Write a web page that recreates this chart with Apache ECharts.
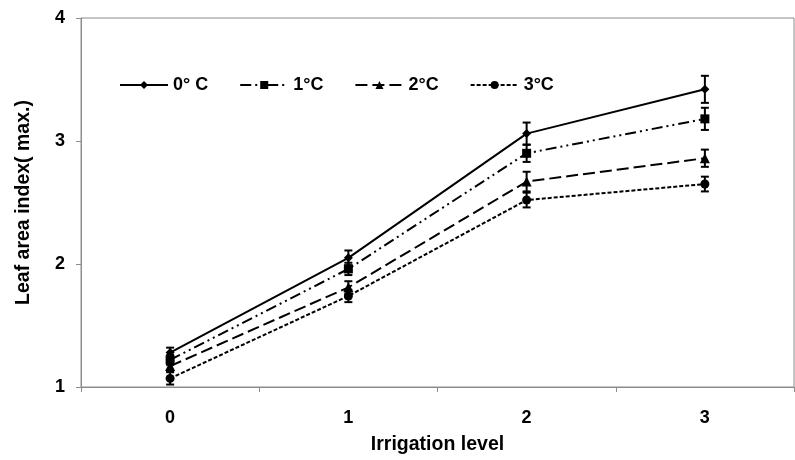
<!DOCTYPE html>
<html>
<head>
<meta charset="utf-8">
<script src="https://cdn.jsdelivr.net/npm/echarts@6/dist/echarts.min.js"></script>
<style>
  html, body { margin: 0; padding: 0; background: #fff; }
  #chart { width: 795px; height: 460px; }
</style>
</head>
<body>
<div id="chart"></div>
<script>
let chart = echarts.init(document.getElementById('chart'));

// data
const levels = ['0', '1', '2', '3'];
const names = ['0° C', '1°C', '2°C', '3°C'];
const lai0 = [1.28, 2.05, 3.06, 3.42];
const lai1 = [1.22, 1.96, 2.90, 3.18];
const lai2 = [1.17, 1.81, 2.67, 2.86];
const lai3 = [1.07, 1.74, 2.52, 2.65];
const err0 = [0.04, 0.06, 0.09, 0.11];
const err1 = [0.04, 0.05, 0.07, 0.09];
const err2 = [0.04, 0.05, 0.08, 0.07];
const err3 = [0.05, 0.05, 0.06, 0.06];
const yTicks = [1, 2, 3, 4];

const font = 'Liberation Sans, Arial, sans-serif';
const allValues = [lai0, lai1, lai2, lai3];
const allErrors = [err0, err1, err2, err3];
const symbols = ['diamond', 'rect', 'triangle', 'circle'];
const symbolSizes = [9, 9, 10, 9];
const dashes = ['solid', [11, 4, 2, 4, 2, 4], [12, 5], [4, 2]];

function errorBars(vals, errs) {
    return vals.map((v, i) => [i, v - errs[i], v + errs[i]]);
}

function renderErr(params, api) {
    let lo = api.coord([api.value(0), api.value(1)]);
    let hi = api.coord([api.value(0), api.value(2)]);
    let w = 4;
    let style = {stroke: '#000', lineWidth: 2};
    return {
        type: 'group',
        children: [
            {type: 'line', shape: {x1: lo[0], y1: lo[1], x2: hi[0], y2: hi[1]}, style: style},
            {type: 'line', shape: {x1: lo[0] - w, y1: lo[1], x2: lo[0] + w, y2: lo[1]}, style: style},
            {type: 'line', shape: {x1: hi[0] - w, y1: hi[1], x2: hi[0] + w, y2: hi[1]}, style: style}
        ]
    };
}

let series = [];
allValues.forEach((vals, k) => {
    series.push({
        name: names[k],
        type: 'line',
        data: vals,
        symbol: symbols[k],
        symbolSize: symbolSizes[k],
        showAllSymbol: true,
        itemStyle: {color: '#000'},
        lineStyle: {color: '#000', width: 2, type: dashes[k]},
        z: 3
    });
    series.push({
        name: 'err' + k,
        type: 'custom',
        renderItem: renderErr,
        data: errorBars(vals, allErrors[k]),
        z: 4
    });
});

let option = {
    animation: false,
    backgroundColor: '#fff',
    grid: {
        left: 81, right: 1, top: 18, bottom: 68,
        show: true, borderColor: '#8c8c8c', borderWidth: 1
    },
    legend: {
        data: names,
        left: 114, top: 71,
        itemWidth: 48, itemHeight: 10, itemGap: 31,
        textStyle: {fontFamily: font, fontWeight: 'bold', fontSize: 18, color: '#000'}
    },
    xAxis: {
        type: 'category',
        data: levels,
        boundaryGap: true,
        name: 'Irrigation level',
        nameLocation: 'middle',
        nameGap: 48,
        nameTextStyle: {fontFamily: font, fontWeight: 'bold', fontSize: 19.5, color: '#000'},
        axisLine: {lineStyle: {color: '#8c8c8c', width: 1}},
        axisTick: {show: true, length: 5, lineStyle: {color: '#8c8c8c'}},
        axisLabel: {margin: 22, fontFamily: font, fontWeight: 'bold', fontSize: 18, color: '#000'},
        splitLine: {show: false}
    },
    yAxis: {
        type: 'value',
        min: yTicks[0],
        max: yTicks[yTicks.length - 1],
        interval: 1,
        name: 'Leaf area index( max.)',
        nameLocation: 'middle',
        nameGap: 47,
        nameTextStyle: {fontFamily: font, fontWeight: 'bold', fontSize: 19.5, color: '#000'},
        axisLine: {show: true, lineStyle: {color: '#8c8c8c', width: 1}},
        axisTick: {show: true, length: 5, lineStyle: {color: '#8c8c8c'}},
        axisLabel: {margin: 16, fontFamily: font, fontWeight: 'bold', fontSize: 18, color: '#000'},
        splitLine: {show: false}
    },
    series: series
};

chart.setOption(option);
</script>
</body>
</html>
